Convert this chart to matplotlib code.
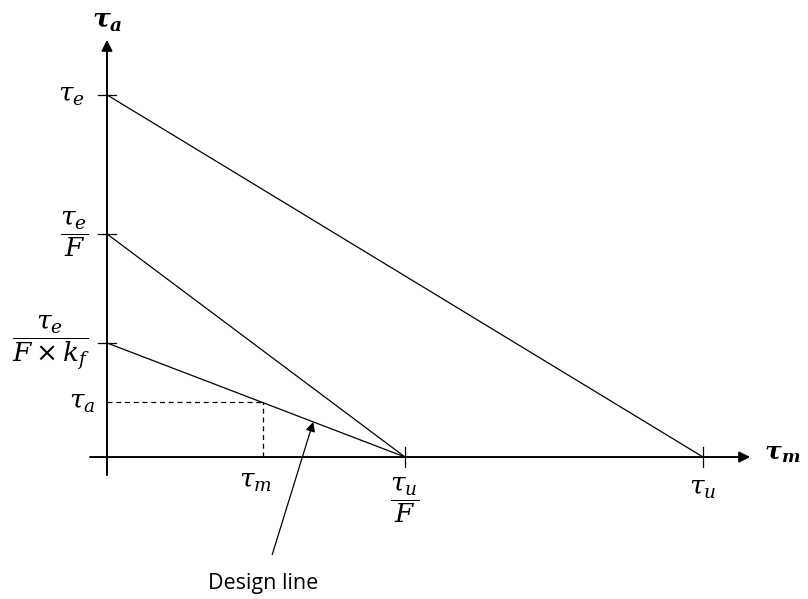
import matplotlib.pyplot as plt

plt.rcParams['mathtext.fontset'] = 'custom'
plt.rcParams['mathtext.rm'] = 'DejaVu Serif'
plt.rcParams['mathtext.it'] = 'DejaVu Serif:italic'
plt.rcParams['mathtext.bf'] = 'DejaVu Serif:italic:bold'

# stress values on the diagram (normalised)
tau_u = 1.0
tau_u_F = 0.5
tau_m = 0.262
tau_e = 1.0
tau_e_F = 0.616
tau_e_Fk = 0.315
tau_a = 0.152

fig = plt.figure(figsize=(8.08, 5.99), dpi=100)
ax = fig.add_axes([0, 0, 1, 1])
ax.set_xlim(-0.1795, 1.176)
ax.set_ylim(-0.392, 1.262)
ax.axis('off')

# axes with arrow heads
arw = dict(arrowstyle='-|>', color='black', lw=1.4, mutation_scale=16,
           shrinkA=0, shrinkB=0)
ax.annotate('', xy=(1.079, 0), xytext=(-0.0285, 0), arrowprops=arw)
ax.annotate('', xy=(0, 1.152), xytext=(0, -0.05), arrowprops=arw)

# tick marks
for yv in [tau_e, tau_e_F, tau_e_Fk]:
    ax.plot([-0.015, 0.015], [yv, yv], color='black', lw=0.9)
for xv in [tau_u_F, tau_u]:
    ax.plot([xv, xv], [-0.028, 0.028], color='black', lw=0.9)

# Goodman lines
ax.plot([0, tau_u], [tau_e, 0], color='black', lw=0.9)
ax.plot([0, tau_u_F], [tau_e_F, 0], color='black', lw=0.9)
ax.plot([0, tau_u_F], [tau_e_Fk, 0], color='black', lw=0.9)

# working point
ax.plot([0, tau_m], [tau_a, tau_a], color='black', lw=0.9, ls=(0, (4, 3)))
ax.plot([tau_m, tau_m], [0, tau_a], color='black', lw=0.9, ls=(0, (4, 3)))

fs = 19
ax.text(-0.037, tau_e, r'$\tau_e$', fontsize=fs, ha='right', va='center')
ax.text(-0.055, tau_e_F, r'$\dfrac{\tau_e}{F}$', fontsize=fs, ha='center', va='center')
ax.text(-0.094, tau_e_Fk, r'$\dfrac{\tau_e}{F\times k_f}$', fontsize=fs, ha='center', va='center')
ax.text(-0.02, tau_a, r'$\tau_a$', fontsize=fs, ha='right', va='center')
ax.text(tau_m - 0.013, -0.03, r'$\tau_m$', fontsize=fs, ha='center', va='top')
ax.text(tau_u_F, -0.05, r'$\dfrac{\tau_u}{F}$', fontsize=fs, ha='center', va='top')
ax.text(tau_u, -0.05, r'$\tau_u$', fontsize=fs, ha='center', va='top')

ax.text(0.0, 1.24, r'$\mathbf{\tau_a}$', fontsize=19, ha='center', va='top')
ax.text(1.103, 0.01, r'$\mathbf{\tau_m}$', fontsize=18, ha='left', va='center')

ax.annotate('Design line', xy=(0.346, 0.097), xytext=(0.262, -0.35),
            fontsize=15.5, family='Open Sans', ha='center', va='center',
            arrowprops=dict(arrowstyle='-|>', color='black', lw=0.9,
                            mutation_scale=14, shrinkA=12, shrinkB=0))

fig.savefig('out.png', dpi=100)
